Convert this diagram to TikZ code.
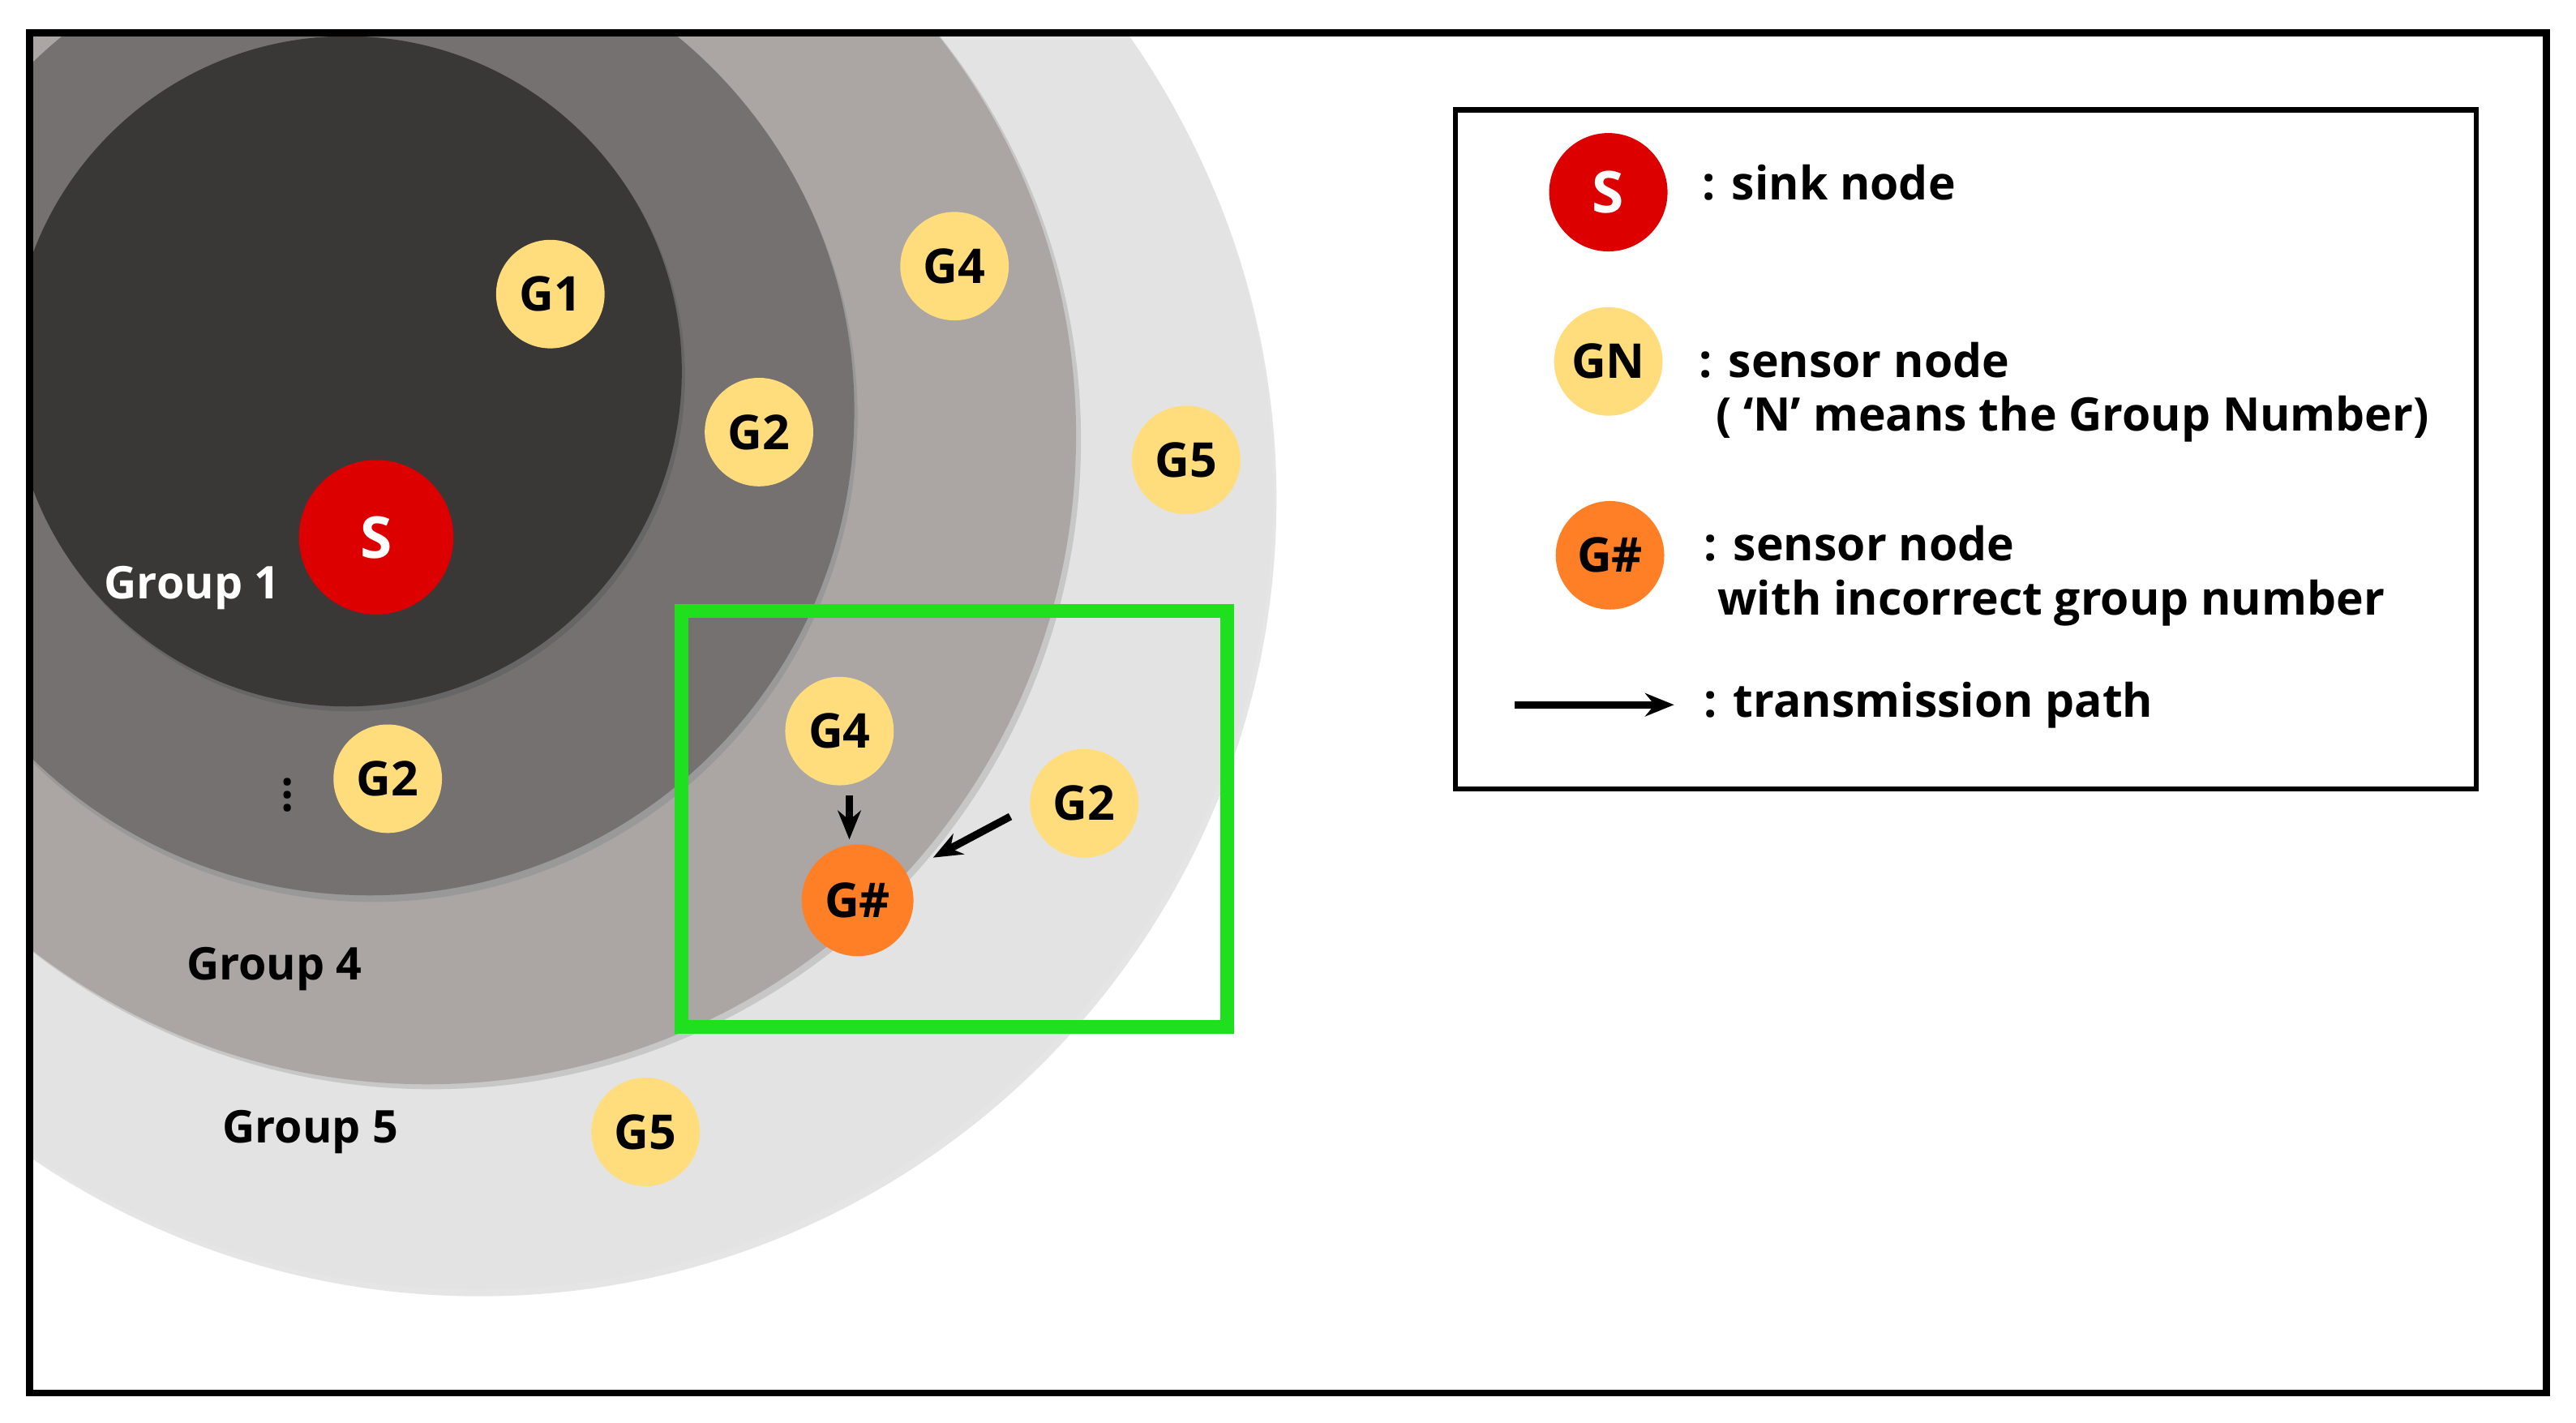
\documentclass[tikz,border=0pt]{standalone}
\usepackage{fontspec}
\setmainfont{Open Sans}
\usetikzlibrary{arrows.meta}
\definecolor{ring4}{HTML}{E3E3E3}
\definecolor{ring3}{HTML}{ABA6A4}
\definecolor{ring2}{HTML}{767171}
\definecolor{ring1}{HTML}{3A3737}
\definecolor{yel}{HTML}{FFDD7C}
\definecolor{org}{HTML}{FF7F27}
\definecolor{snk}{HTML}{DD0000}
\definecolor{grn}{HTML}{1EE01E}
\begin{document}
\begin{tikzpicture}[x=0.01cm,y=-0.01cm,
  txt/.style={font=\fontsize{7.8}{9}\selectfont\bfseries},
  ltxt/.style={font=\fontsize{8}{9.5}\selectfont\bfseries},
  yn/.style={circle,fill=yel,minimum size=0.66cm,inner sep=0pt,font=\fontsize{8.3}{10}\selectfont\bfseries},
  on/.style={circle,fill=org,minimum size=0.68cm,inner sep=0pt,font=\fontsize{8.3}{10}\selectfont\bfseries},
  sn/.style={circle,fill=snk,text=white,minimum size=0.94cm,inner sep=0pt,font=\fontsize{10}{12}\selectfont\bfseries},
  arr/.style={-{Stealth[length=5pt,width=4pt]},line width=1.3pt}]
\useasboundingbox (0,0) rectangle (1568,866);
\fill[white] (0,0) rectangle (1568,866);
\begin{scope}
\clip (18,20) rectangle (1550,848);
\fill[black!10] (292,304) circle (485);
\fill[ring4] (290,300) circle (485);
\fill[black!22] (263,268) circle (395);
\fill[ring3] (260,265) circle (395);
\fill[black!40] (227,254) circle (295);
\fill[ring2] (225,250) circle (295);
\fill[black!60] (213,229) circle (204);
\fill[ring1] (211,226) circle (204);
\end{scope}
\draw[line width=1.2pt] (18,20) rectangle (1550,848);
\node[txt,text=white] (g1l) at (117,358) {Group 1};
\node[txt] (g4l) at (167,590) {Group 4};
\node[txt] (g5l) at (189,689) {Group 5};
\node[txt] (dots) at (175,484) {\rotatebox{90}{...}};
\node[sn] (s) at (229,327) {S};
\node[yn] (a1) at (335,179) {G1};
\node[yn] (a2) at (581,162) {G4};
\node[yn] (a3) at (462,263) {G2};
\node[yn] (a4) at (722,280) {G5};
\node[yn] (a5) at (236,474) {G2};
\node[yn] (a6) at (511,445) {G4};
\node[yn] (a7) at (660,489) {G2};
\node[yn] (a8) at (393,689) {G5};
\node[on] (h) at (522,548) {G\#};
\node[draw=grn,line width=2.4pt,minimum width=3.32cm,minimum height=2.53cm] (box) at (581,498.5) {};
\coordinate (p1) at (517,484);
\coordinate (p2) at (517,511);
\coordinate (q1) at (615,497);
\coordinate (q2) at (568,522);
\draw[arr] (p1) -- (p2);
\draw[arr] (q1) -- (q2);
% legend
\node[draw,line width=0.9pt,minimum width=6.21cm,minimum height=4.13cm] (leg) at (1196.5,273.5) {};
\node[sn,minimum size=0.72cm] (ls) at (979,117) {S};
\node[yn] (lg) at (979,220) {GN};
\node[on,minimum size=0.66cm] (lh) at (980,338) {G\#};
\node[ltxt,anchor=west] (t1) at (1024,111) {: sink node};
\node[ltxt,anchor=west] (t2) at (1022,219) {: sensor node};
\node[ltxt,anchor=west] (t3) at (1032,255) {( ‘N’ means the Group Number)};
\node[ltxt,anchor=west] (t4) at (1025,331) {: sensor node};
\node[ltxt,anchor=west] (t5) at (1033,367) {with incorrect group number};
\node[ltxt,anchor=west] (t6) at (1025,429) {: transmission path};
\coordinate (r1) at (922,429);
\coordinate (r2) at (1019,429);
\draw[arr] (r1) -- (r2);
\end{tikzpicture}
\end{document}
